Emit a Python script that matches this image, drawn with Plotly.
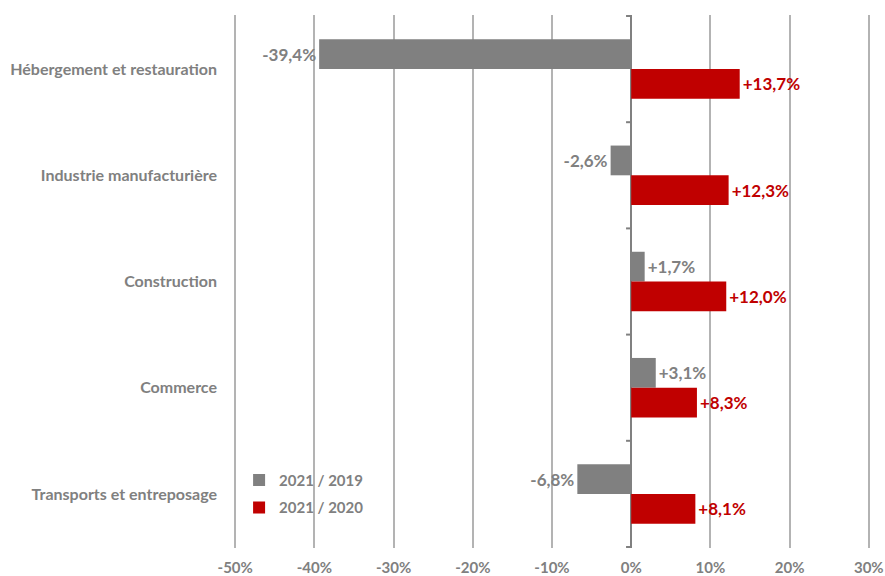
import plotly.graph_objects as go

categories = ["Hébergement et restauration", "Industrie manufacturière", "Construction",
              "Commerce", "Transports et entreposage"]
series_names = ["2021 / 2019", "2021 / 2020"]
vals_2019 = [-39.4, -2.6, 1.7, 3.1, -6.8]
vals_2020 = [13.7, 12.3, 12.0, 8.3, 8.1]
x_ticks = [-50, -40, -30, -20, -10, 0, 10, 20, 30]
x_tick_labels = [f"{t}%" for t in x_ticks]

GRAY = "#808080"
RED = "#C00000"
FONT = "Lato"

def fmt(v):
    return f"{v:+.1f}%".replace(".", ",")

fig = go.Figure()
for name, vals, col, grp in [(series_names[0], vals_2019, GRAY, "a"),
                             (series_names[1], vals_2020, RED, "b")]:
    fig.add_trace(go.Bar(
        y=categories, x=vals, orientation="h", name=name,
        marker=dict(color=col, line=dict(width=0)),
        text=[fmt(v) for v in vals], textposition="outside",
        textfont=dict(family=FONT, size=17, color=col, weight="bold"),
        cliponaxis=False, legendgroup=grp,
    ))

# tick marks on the zero line at category boundaries
for i in range(len(categories) + 1):
    fig.add_shape(type="line", xref="x", yref="y", x0=-0.65, x1=0,
                  y0=i - 0.5, y1=i - 0.5, line=dict(color=GRAY, width=2))

fig.update_layout(
    width=885, height=576,
    margin=dict(l=234, r=15, t=15, b=28, autoexpand=False),
    paper_bgcolor="white", plot_bgcolor="white",
    barmode="group", bargap=0.44, bargroupgap=0,
    font=dict(family=FONT, color=GRAY),
    showlegend=True,
    legend=dict(x=0.008, y=0.158, xanchor="left", yanchor="top",
                bgcolor="rgba(0,0,0,0)", traceorder="grouped", tracegroupgap=5,
                font=dict(family=FONT, size=15, color=GRAY, weight="bold"),
                itemwidth=30),
    xaxis=dict(range=[-50.15, 30.15], tickvals=x_ticks, ticktext=x_tick_labels,
               showgrid=True, gridcolor="#B3B3B3", gridwidth=1.5,
               zeroline=True, zerolinecolor=GRAY, zerolinewidth=2,
               showline=False, ticks="", ticklabelstandoff=9, automargin=False,
               ticklabeloverflow="allow",
               tickfont=dict(family=FONT, size=15, color=GRAY, weight="bold")),
    yaxis=dict(categoryorder="array", categoryarray=categories, autorange="reversed",
               showgrid=False, zeroline=False, showline=False, ticks="",
               ticklabelstandoff=16, automargin=False,
               tickfont=dict(family=FONT, size=16, color=GRAY, weight="bold")),
)

# remove the default 8px page margin so the figure fills the window exactly
fig.write_html("out.html", config={"displayModeBar": False},
               post_script="document.body.style.margin='0';document.body.style.overflow='hidden';")
